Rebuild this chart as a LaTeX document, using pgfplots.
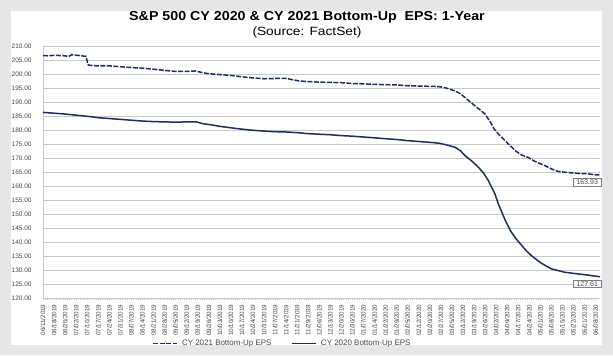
\documentclass[border=0pt]{standalone}
\usepackage{pgfplots}
\pgfplotsset{compat=1.18}
\usepackage{fontspec}
\setmainfont{Liberation Sans}
\definecolor{navy}{RGB}{31,45,90}
\definecolor{bggray}{RGB}{230,230,230}
\definecolor{gridgray}{RGB}{200,200,200}
\definecolor{txtgray}{RGB}{70,70,70}
\begin{document}
\begin{tikzpicture}[x=1bp,y=1bp]
\fill[bggray] (0,0) rectangle (613,355);
\fill[white] (11,10) rectangle (602,344);
\node[font=\fontsize{13}{14}\selectfont\bfseries, xscale=1.1] at (307,338) {S\&P 500 CY 2020 \& CY 2021 Bottom-Up\ \ EPS: 1-Year};
\node[font=\fontsize{12}{13}\selectfont, xscale=1.15] at (307,323) {(Source: FactSet)};
\begin{axis}[
  at={(43bp,57bp)}, anchor=south west,
  scale only axis, width=557bp, height=252bp,
  xmin=0, xmax=50.4, ymin=120, ymax=210,
  axis x line*=bottom, axis y line*=left,
  axis line style={gridgray, line width=0.6pt},
  ytick distance=5,
  ymajorgrids, grid style={gridgray, line width=0.9pt},
  major y tick style={draw=none},
  /pgf/number format/assume math mode=true,
  yticklabel={\pgfmathprintnumber[fixed,fixed zerofill,precision=2]{\tick}},
  yticklabel style={font=\fontsize{6.5}{7}\selectfont, text=txtgray, xshift=-6bp},
  xtick={0,...,50},
  xticklabels={06/11/2019,06/18/2019,06/25/2019,07/02/2019,07/10/2019,07/17/2019,07/24/2019,07/31/2019,08/07/2019,08/14/2019,08/21/2019,08/28/2019,09/05/2019,09/12/2019,09/19/2019,09/26/2019,10/03/2019,10/10/2019,10/17/2019,10/24/2019,10/31/2019,11/07/2019,11/14/2019,11/21/2019,11/29/2019,12/06/2019,12/13/2019,12/20/2019,12/30/2019,01/07/2020,01/14/2020,01/22/2020,01/29/2020,02/05/2020,02/12/2020,02/20/2020,02/27/2020,03/05/2020,03/12/2020,03/19/2020,03/26/2020,04/02/2020,04/09/2020,04/17/2020,04/24/2020,05/01/2020,05/08/2020,05/15/2020,05/22/2020,06/01/2020,06/08/2020},
  xticklabel style={rotate=90, anchor=east, font=\fontsize{6.3}{6.3}\selectfont, text=txtgray, xshift=-1bp},
  minor x tick num=4,
  major x tick style={gridgray, line width=0.5pt},
  minor x tick style={gridgray, line width=0.5pt},
  major tick length=2bp, minor tick length=1.5bp,
  tick align=outside,
  clip=false,
  legend columns=2,
  legend style={at={(0.43,-0.18)}, anchor=center, draw=none, fill=none,
    font=\fontsize{8}{9}\selectfont, text=txtgray,
    /tikz/every odd column/.append style={column sep=2bp},
    /tikz/every even column/.append style={column sep=18bp}},
  legend image code/.code={\draw[#1] (0bp,0bp) -- (24bp,0bp);},
]
\addplot[navy, line width=1.5pt, dash pattern=on 5bp off 1.5bp] coordinates {
(0,206.6) (0.5,206.5) (1,206.7) (1.5,206.6) (2,206.5) (2.3,206.2) (2.6,206.9) (3,206.7) (3.5,206.5) (3.9,206.3)
(4.0,204.5) (4.1,203.2) (4.5,203.0) (5,202.9) (6,202.9) (7,202.6) (8,202.3) (9,202.1) (10,201.7) (11,201.3)
(12,200.9) (13,200.9) (13.8,201.1) (14.3,200.6) (15,200.1) (16,199.8) (17,199.5) (18,199.0) (19,198.6) (20,198.3)
(21,198.4) (22,198.4) (22.8,197.8) (23.2,197.5) (24,197.3) (25,197.1) (26,197.0) (27,196.9) (28,196.6) (29,196.5)
(30,196.3) (31,196.2) (32,196.1) (33,195.8) (34,195.7) (35,195.6) (35.8,195.5) (36.3,195.2) (36.8,194.6) (37.3,193.9)
(37.8,192.9) (38.2,191.5) (38.7,189.9) (39.2,188.3) (39.6,187.0) (40,185.7) (40.5,182.7) (40.8,180.5) (41.2,178.6)
(41.8,176.2) (42.3,174.3) (42.8,172.4) (43.3,171.1) (43.9,170.2) (44.5,168.8) (45.4,167.3) (46,166.1) (46.6,165.2)
(47.5,164.8) (48.4,164.5) (49.2,164.4) (50,164.0) (50.4,163.93)
};
\addlegendentry{CY 2021 Bottom-Up EPS}
\addplot[navy, line width=1.5pt] coordinates {
(0,186.3) (1,186.0) (2,185.7) (3,185.3) (4,184.9) (5,184.4) (6,184.1) (7,183.8) (8,183.5) (9,183.2) (10,183.0)
(11,182.9) (12,182.8) (13,182.9) (13.9,182.9) (14.4,182.3) (15.3,181.8) (16,181.3) (17,180.8) (18,180.3) (19,179.9)
(20,179.6) (21,179.4) (22,179.3) (23.2,179.0) (24,178.7) (25,178.5) (26,178.3) (27,178.0) (28,177.8) (29,177.5)
(30,177.2) (31,176.9) (32,176.6) (33,176.2) (34,175.9) (35,175.6) (35.8,175.3) (36.5,174.7) (37.3,173.8) (37.8,172.5)
(38.2,170.8) (38.8,168.9) (39.4,166.7) (39.9,164.4) (40.3,161.9) (40.9,157.1) (41.2,153.6) (41.8,148.0) (42.3,144.0)
(42.8,141.2) (43.2,139.3) (43.7,137.0) (44.2,135.1) (45.1,132.4) (46,130.4) (47.2,129.2) (48.4,128.6) (49.3,128.2)
(50,127.8) (50.4,127.61)
};
\addlegendentry{CY 2020 Bottom-Up EPS}
\node[draw=gray, fill=white, anchor=north east, inner xsep=3bp, inner ysep=1.5bp, line width=0.4pt,
  font=\fontsize{7}{7.5}\selectfont, text=txtgray] at (axis cs:50.5,162.8) {163.93};
\node[draw=gray, fill=white, anchor=north east, inner xsep=3bp, inner ysep=1.5bp, line width=0.4pt,
  font=\fontsize{7}{7.5}\selectfont, text=txtgray] at (axis cs:50.5,126.6) {127.61};
\end{axis}
\end{tikzpicture}
\end{document}
